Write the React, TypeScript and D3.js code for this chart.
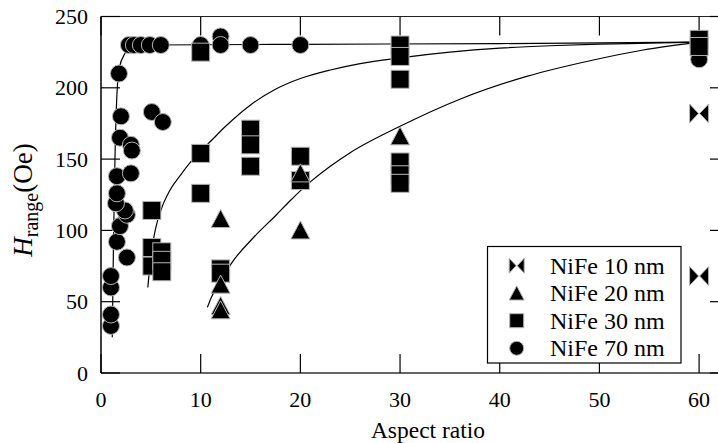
import React from "react";
import * as d3 from "d3";

const W = 718;
const H = 443;

// Data: [aspect ratio, H_range (Oe)]
const nife10: [number, number][] = [
  [60, 182],
  [60, 68],
];
const nife20: [number, number][] = [
  [12, 108], [12, 62], [12, 47], [12, 44], [20, 100], [20, 140], [30, 166],
];
const nife30: [number, number][] = [
  [10, 225], [10, 154], [10, 126], [15, 171], [15, 160], [15, 145],
  [20, 152], [20, 135], [5.1, 114], [5.1, 88], [5.1, 75], [6.1, 85],
  [6.1, 79], [6.1, 71], [12, 73], [12, 70], [30, 230], [30, 222],
  [30, 206], [30, 148], [30, 139], [30, 133], [60, 234], [60, 229],
];
const nife70: [number, number][] = [
  [1.0, 33], [1.0, 41], [1.0, 60], [1.0, 68], [1.6, 92], [2.6, 81],
  [1.9, 103], [2.6, 111], [2.4, 114], [1.5, 119], [1.6, 126], [1.6, 138],
  [3.0, 140], [1.9, 165], [3.0, 160], [3.1, 156], [2.0, 180], [1.8, 210],
  [5.1, 183], [6.2, 176], [2.8, 230], [3.3, 230], [4.0, 230], [4.9, 230],
  [6.0, 230], [10, 230], [12, 236], [12, 230], [15, 230], [20, 230], [60, 220],
];

// Fit curves
const fit70: [number, number][] = [
  [1.13, 25], [1.25, 90], [1.4, 150], [1.57, 191], [1.84, 214], [2.4, 224],
  [3.1, 229], [5, 230], [20, 230.5], [40, 231], [60, 232],
];
const fit30: [number, number][] = [
  [4.7, 60], [5.0, 82], [5.5, 102], [6.0, 114], [6.9, 128], [8, 139],
  [9, 148], [10, 155.5], [11, 162.5], [12.5, 173], [15, 188], [17.5, 199],
  [20, 206.5], [23, 212.5], [26, 217], [30, 221], [35, 225], [40, 227.8],
  [45, 229.5], [50, 230.6], [55, 231.3], [60, 232],
];
const fit20: [number, number][] = [
  [10.67, 46], [11.1, 53.5], [12, 64], [13.1, 77], [15.3, 95], [17.6, 111],
  [19, 121], [21, 134], [23, 145], [25, 154.5], [30, 173], [36, 192],
  [42.7, 208], [49.4, 219.5], [54.4, 226.5], [60, 232],
];

const xTicks = [0, 10, 20, 30, 40, 50, 60];
const yTicks = [0, 50, 100, 150, 200, 250];
const legendLabels = ["NiFe 10 nm", "NiFe 20 nm", "NiFe 30 nm", "NiFe 70 nm"];

const FONT = "Liberation Serif, Times New Roman, DejaVu Serif, serif";

const x = d3.scaleLinear().domain([0, 63]).range([101, 729]);
const y = d3.scaleLinear().domain([0, 250]).range([373, 16.5]);

const line = d3
  .line<[number, number]>()
  .x((d) => x(d[0]))
  .y((d) => y(d[1]))
  .curve(d3.curveMonotoneX);

const OUT = "#b4b4b4";

function Marker({ kind, cx, cy, s }: { kind: string; cx: number; cy: number; s: number }) {
  const h = s / 2;
  if (kind === "circle") {
    return <circle cx={cx} cy={cy} r={h} fill="#000" stroke={OUT} strokeWidth={1} />;
  }
  if (kind === "square") {
    return <rect x={cx - h} y={cy - h} width={s} height={s} fill="#000" stroke={OUT} strokeWidth={1} />;
  }
  if (kind === "triangle") {
    const p = `M${cx},${cy - h} L${cx + h},${cy + h * 0.9} L${cx - h},${cy + h * 0.9} Z`;
    return <path d={p} fill="#000" stroke={OUT} strokeWidth={1} />;
  }
  // bowtie
  const p = `M${cx - h},${cy - h} L${cx - 0.5},${cy} L${cx - h},${cy + h} Z M${cx + h},${cy - h} L${cx + 0.5},${cy} L${cx + h},${cy + h} Z`;
  return <path d={p} fill="#000" stroke={OUT} strokeWidth={1} />;
}

const T: React.CSSProperties = { fontFamily: FONT };

export default function App() {
  const x0 = x(0);
  const x1 = x(63);
  const y0 = y(0);
  const y1 = y(250);
  const TL = 19;

  const legendX = 487.5;
  const legendY = 246.5;
  const legendRows = [265.7, 293.3, 320.7, 348.3];
  const legendKinds = ["bowtie", "triangle", "square", "circle"];
  const legendSizes = [15, 15, 14, 14];

  return (
    <svg
      width={W}
      height={H}
      style={{ position: "absolute", left: 0, top: 0, background: "#fff" }}
    >
      <rect x={0} y={0} width={W} height={H} fill="#fff" />

      {/* frame */}
      <line x1={x0} x2={x1} y1={y0} y2={y0} stroke="#666" strokeWidth={2} />
      <line x1={x0} x2={x1} y1={y1} y2={y1} stroke="#222" strokeWidth={1.2} />
      <line x1={x0} x2={x0} y1={y1} y2={y0} stroke="#000" strokeWidth={1.5} />
      <line x1={x1} x2={x1} y1={y1} y2={y0} stroke="#000" strokeWidth={1.2} />

      {/* x ticks */}
      {xTicks.map((t) => (
        <g key={"xt" + t}>
          <line x1={x(t)} x2={x(t)} y1={y0} y2={y0 - TL} stroke="#000" strokeWidth={1.2} />
          <line x1={x(t)} x2={x(t)} y1={y1} y2={y1 + TL} stroke="#000" strokeWidth={1.2} />
          <text x={x(t)} y={407} textAnchor="middle" fontSize={22} fill="#000" style={T}>
            {t}
          </text>
        </g>
      ))}

      {/* y ticks */}
      {yTicks.map((t) => (
        <g key={"yt" + t}>
          <line x1={x0} x2={x0 + TL} y1={y(t)} y2={y(t)} stroke="#000" strokeWidth={1.2} />
          <line x1={x1} x2={x1 - TL} y1={y(t)} y2={y(t)} stroke="#000" strokeWidth={1.2} />
          <text x={88} y={y(t) + 7.5} textAnchor="end" fontSize={22} fill="#000" style={T}>
            {t}
          </text>
        </g>
      ))}

      {/* axis titles */}
      <text x={428} y={438} textAnchor="middle" fontSize={23.5} fill="#000" style={T}>
        Aspect ratio
      </text>
      <text transform="translate(32,200) rotate(-90)" textAnchor="middle" fontSize={27} fill="#000" style={T}>
        <tspan fontStyle="italic">H</tspan>
        <tspan fontSize={20} dy={6}>range</tspan>
        <tspan dy={-6}>(Oe)</tspan>
      </text>

      {/* fit curves */}
      {[fit70, fit30, fit20].map((c, i) => (
        <path key={"fit" + i} d={line(c) || ""} fill="none" stroke="#000" strokeWidth={1.2} />
      ))}

      {/* markers */}
      {nife70.map((d, i) => (
        <Marker key={"c" + i} kind="circle" cx={x(d[0])} cy={y(d[1])} s={17} />
      ))}
      {nife30.map((d, i) => (
        <Marker key={"s" + i} kind="square" cx={x(d[0])} cy={y(d[1])} s={18} />
      ))}
      {nife20.map((d, i) => (
        <Marker key={"t" + i} kind="triangle" cx={x(d[0])} cy={y(d[1])} s={19} />
      ))}
      {nife10.map((d, i) => (
        <Marker key={"b" + i} kind="bowtie" cx={x(d[0])} cy={y(d[1])} s={19} />
      ))}

      {/* legend */}
      <rect x={legendX} y={legendY} width={193.5} height={116.5} fill="#fff" stroke="#000" strokeWidth={1.2} />
      {legendLabels.map((lab, i) => (
        <g key={"lg" + i}>
          <Marker kind={legendKinds[i]} cx={516.7} cy={legendRows[i]} s={legendSizes[i]} />
          <text x={550} y={legendRows[i] + 8} fontSize={24} fill="#000" style={T}>
            {lab}
          </text>
        </g>
      ))}
    </svg>
  );
}
